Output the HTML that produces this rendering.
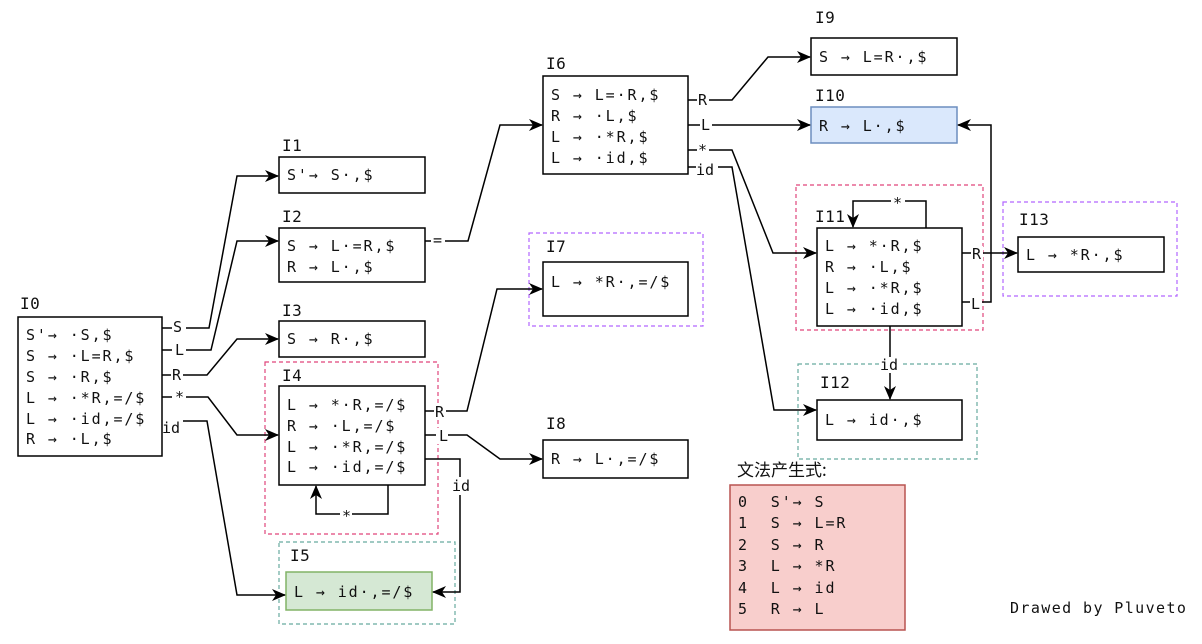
<!DOCTYPE html>
<html><head><meta charset="utf-8"><style>
html,body{margin:0;padding:0;background:#fff;}
svg{display:block;}
text{font-family:"DejaVu Sans Mono","Liberation Mono","Noto Sans CJK SC",monospace;font-size:15px;fill:#111;letter-spacing:1.9px;white-space:pre;}
.t{letter-spacing:0.5px;font-size:16px;}
.l{letter-spacing:0;font-size:15px;}
</style></head><body>
<svg width="1202" height="644" viewBox="0 0 1202 644" xmlns="http://www.w3.org/2000/svg">
<defs><marker id="a" markerWidth="14" markerHeight="12" refX="13" refY="6" orient="auto" markerUnits="userSpaceOnUse"><path d="M0,0 L14,6 L0,12 L4,6 Z" fill="#000"/></marker></defs>
<g fill="none" stroke-width="1.2" stroke-dasharray="4,3">
<rect x="265" y="362" width="173" height="172" stroke="#e0457b"/>
<rect x="279" y="542" width="176" height="82" stroke="#67ab9f"/>
<rect x="529" y="233" width="174" height="93" stroke="#b266ff"/>
<rect x="796" y="185" width="187" height="145" stroke="#e0457b"/>
<rect x="798" y="364" width="179" height="95" stroke="#67ab9f"/>
<rect x="1003" y="202" width="174" height="94" stroke="#b266ff"/>
</g>
<g stroke="#000" stroke-width="1.5" fill="#fff">
<rect x="18" y="317" width="144" height="139"/>
<rect x="279" y="157" width="146" height="36"/>
<rect x="279" y="228" width="146" height="54"/>
<rect x="279" y="321" width="146" height="36"/>
<rect x="279" y="386" width="146" height="99"/>
<rect x="286" y="572" width="146" height="38" fill="#d5e8d4" stroke="#82b366"/>
<rect x="543" y="76" width="145" height="98"/>
<rect x="543" y="262" width="145" height="54"/>
<rect x="543" y="440" width="145" height="38"/>
<rect x="811" y="38" width="146" height="37"/>
<rect x="811" y="107" width="146" height="36" fill="#dae8fc" stroke="#6c8ebf"/>
<rect x="817" y="228" width="145" height="98"/>
<rect x="817" y="400" width="145" height="40"/>
<rect x="1018" y="237" width="146" height="35"/>
<rect x="730" y="485" width="175" height="145" fill="#f8cecc" stroke="#b85450"/>
</g>
<g fill="none" stroke="#000" stroke-width="1.5">
<path d="M162,328 H209 L237,176 H278" marker-end="url(#a)"/>
<path d="M162,350 H211 L237,241 H278" marker-end="url(#a)"/>
<path d="M162,375 H207 L237,339 H278" marker-end="url(#a)"/>
<path d="M162,397 H208 L237,435 H278" marker-end="url(#a)"/>
<path d="M183,421 H207 L237,595 H285" marker-end="url(#a)"/>
<path d="M425,241 H468 L500,125 H542" marker-end="url(#a)"/>
<path d="M425,411 H467 L497,289 H542" marker-end="url(#a)"/>
<path d="M425,435 H467 L500,459 H542" marker-end="url(#a)"/>
<path d="M425,459 H460 V592 H433" marker-end="url(#a)"/>
<path d="M388,485 V514 H316 V486" marker-end="url(#a)"/>
<path d="M688,100 H732 L768,57 H810" marker-end="url(#a)"/>
<path d="M688,125 H810" marker-end="url(#a)"/>
<path d="M688,150 H732 L773,253 H816" marker-end="url(#a)"/>
<path d="M688,167 H732 L774,410 H816" marker-end="url(#a)"/>
<path d="M926,228 V201 H853 V227" marker-end="url(#a)"/>
<path d="M962,253 H1017" marker-end="url(#a)"/>
<path d="M962,302 H991 V125 H958" marker-end="url(#a)"/>
<path d="M890,326 V399" marker-end="url(#a)"/>
</g>
<g>
<rect x="172" y="318" width="14" height="16" fill="#fff"/><text class="l" x="173" y="332">S</text>
<rect x="172" y="341" width="14" height="16" fill="#fff"/><text class="l" x="175" y="355">L</text>
<rect x="171" y="366" width="12" height="16" fill="#fff"/><text class="l" x="172" y="380">R</text>
<rect x="172" y="388" width="14" height="14" fill="#fff"/><text class="l" x="175" y="402">*</text>
<text class="l" x="162" y="433">id</text>
<rect x="431" y="234" width="14" height="12" fill="#fff"/><text class="l" x="433" y="245">=</text>
<rect x="434" y="404" width="12" height="16" fill="#fff"/><text class="l" x="435" y="417">R</text>
<rect x="436" y="428" width="12" height="16" fill="#fff"/><text class="l" x="439" y="441">L</text>
<rect x="451" y="477" width="22" height="18" fill="#fff"/><text class="l" x="452" y="491">id</text>
<rect x="340" y="507" width="12" height="14" fill="#fff"/><text class="l" x="342" y="521">*</text>
<rect x="697" y="92" width="12" height="16" fill="#fff"/><text class="l" x="698" y="105">R</text>
<rect x="700" y="117" width="12" height="16" fill="#fff"/><text class="l" x="701" y="130">L</text>
<rect x="697" y="143" width="12" height="12" fill="#fff"/><text class="l" x="698" y="155">*</text>
<rect x="696" y="160" width="22" height="16" fill="#fff"/><text class="l" x="696" y="175">id</text>
<rect x="891" y="195" width="14" height="12" fill="#fff"/><text class="l" x="893" y="208">*</text>
<rect x="971" y="246" width="12" height="16" fill="#fff"/><text class="l" x="972" y="259">R</text>
<rect x="970" y="295" width="12" height="16" fill="#fff"/><text class="l" x="971" y="309">L</text>
<rect x="880" y="357" width="22" height="16" fill="#fff"/><text class="l" x="880" y="370">id</text>
</g>
<g>
<text class="t" x="20" y="309">I0</text>
<text class="t" x="282" y="151">I1</text>
<text class="t" x="282" y="222">I2</text>
<text class="t" x="282" y="316">I3</text>
<text class="t" x="282" y="381">I4</text>
<text class="t" x="290" y="561">I5</text>
<text class="t" x="546" y="69">I6</text>
<text class="t" x="546" y="252">I7</text>
<text class="t" x="546" y="429">I8</text>
<text class="t" x="815" y="23">I9</text>
<text class="t" x="815" y="101">I10</text>
<text class="t" x="815" y="222">I11</text>
<text class="t" x="820" y="388">I12</text>
<text class="t" x="1019" y="225">I13</text>
</g>
<text x="26" y="340">S'→ ·S,$</text>
<text x="26" y="361">S → ·L=R,$</text>
<text x="26" y="382">S → ·R,$</text>
<text x="26" y="403">L → ·*R,=/$</text>
<text x="26" y="424">L → ·id,=/$</text>
<text x="26" y="444">R → ·L,$</text>
<text x="287" y="180">S'→ S·,$</text>
<text x="287" y="251">S → L·=R,$</text>
<text x="287" y="272">R → L·,$</text>
<text x="287" y="344">S → R·,$</text>
<text x="287" y="410">L → *·R,=/$</text>
<text x="287" y="431">R → ·L,=/$</text>
<text x="287" y="452">L → ·*R,=/$</text>
<text x="287" y="472">L → ·id,=/$</text>
<text x="294" y="597">L → id·,=/$</text>
<text x="551" y="100">S → L=·R,$</text>
<text x="551" y="121">R → ·L,$</text>
<text x="551" y="142">L → ·*R,$</text>
<text x="551" y="163">L → ·id,$</text>
<text x="551" y="287">L → *R·,=/$</text>
<text x="551" y="464">R → L·,=/$</text>
<text x="819" y="62">S → L=R·,$</text>
<text x="819" y="131">R → L·,$</text>
<text x="825" y="251">L → *·R,$</text>
<text x="825" y="272">R → ·L,$</text>
<text x="825" y="293">L → ·*R,$</text>
<text x="825" y="314">L → ·id,$</text>
<text x="825" y="425">L → id·,$</text>
<text x="1026" y="260">L → *R·,$</text>
<text class="l" x="737" y="476" style="font-family:'Noto Sans CJK SC',sans-serif;font-size:17px">文法产生式:</text>
<text x="738" y="507">0  S'→ S</text>
<text x="738" y="528">1  S → L=R</text>
<text x="738" y="550">2  S → R</text>
<text x="738" y="571">3  L → *R</text>
<text x="738" y="593">4  L → id</text>
<text x="738" y="614">5  R → L</text>
<text x="1010" y="613" style="letter-spacing:1.4px">Drawed by Pluveto</text>
</svg>
</body></html>
